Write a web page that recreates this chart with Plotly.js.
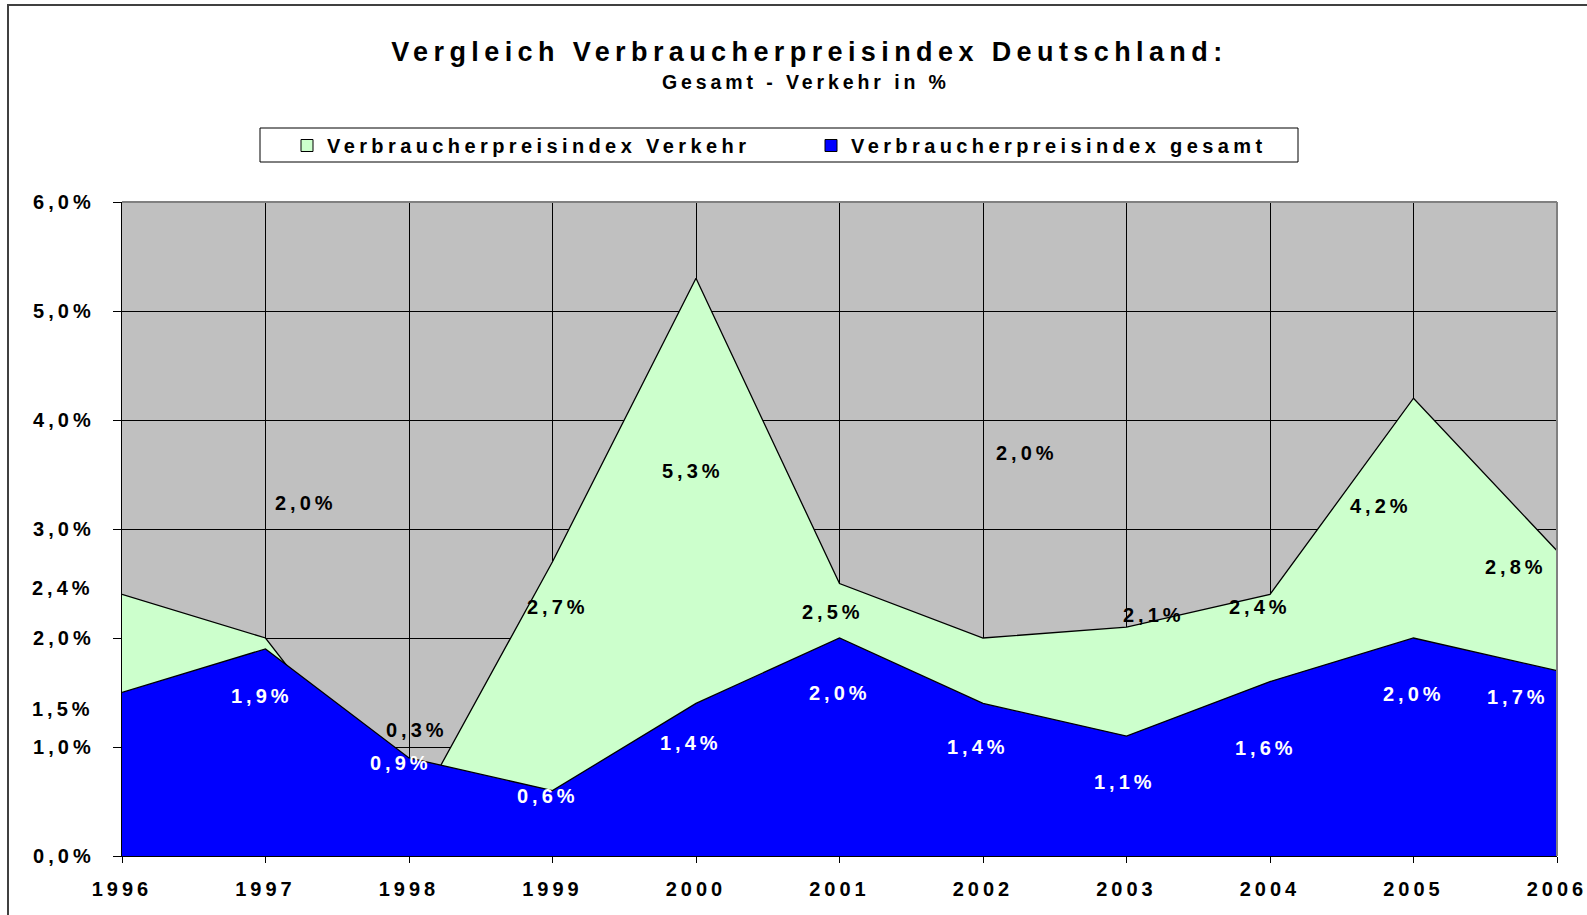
<!DOCTYPE html>
<html>
<head>
<meta charset="utf-8">
<script src="https://cdn.plot.ly/plotly-3.0.1.min.js"></script>
<style>
  html, body { margin: 0; padding: 0; background: #ffffff; }
  #wrap { position: relative; width: 1587px; height: 915px; }
  #chart { width: 1587px; height: 915px; }
  #frame { position: absolute; left: 7px; top: 4px; right: 0; bottom: 0;
           border-left: 2px solid #404040; border-top: 2px solid #404040; pointer-events: none; }
  svg text { letter-spacing: 0.2em; }
  .legendtext { letter-spacing: 0.22em; }
</style>
</head>
<body>
<div id="wrap">
  <div id="chart"></div>
  <div id="frame"></div>
</div>
<script>
// ---- data ----
const years = [1996, 1997, 1998, 1999, 2000, 2001, 2002, 2003, 2004, 2005, 2006];
const verkehr = [2.4, 2.0, 0.3, 2.7, 5.3, 2.5, 2.0, 2.1, 2.4, 4.2, 2.8];
const gesamt  = [1.5, 1.9, 0.9, 0.6, 1.4, 2.0, 1.4, 1.1, 1.6, 2.0, 1.7];
const yTickVals = [0, 1, 2, 3, 4, 5, 6];
const seriesNames = ['Verbraucherpreisindex Verkehr', 'Verbraucherpreisindex gesamt'];
const titleText = 'Vergleich Verbraucherpreisindex Deutschland:';
const subtitleText = 'Gesamt - Verkehr in %';

// ---- label placement (pixel offsets from each point: [dx, dy up]) ----
const verkehrShift = [[-59, 6], [40, 135], [8, 93], [5, -45], [-3, -193], [-7, -28],
                      [44, 185], [27, 12], [-10, -13], [-33, -108], [-41, -16]];
const gesamtShift  = [[-59, -16], [-4, -47], [-8, -5], [-5, -5], [-5, -40], [0, -55],
                      [-5, -44], [-2, -46], [-4, -66], [0, -56], [-39, -26]];

const FONT = 'Liberation Sans, Arial, sans-serif';
const GREEN = '#ccffcc', BLUE = '#0000ff', GRAY = '#c0c0c0';

function pct(v) { return v.toFixed(1).replace('.', ',') + '%'; }

const traces = [
  { x: years, y: verkehr, type: 'scatter', mode: 'lines', fill: 'tozeroy',
    fillcolor: GREEN, line: { color: '#000000', width: 1.3 }, showlegend: false, hoverinfo: 'skip' },
  { x: years, y: gesamt, type: 'scatter', mode: 'lines', fill: 'tozeroy',
    fillcolor: BLUE, line: { color: '#000000', width: 1.3 }, showlegend: false, hoverinfo: 'skip' },
  { x: [null], y: [null], type: 'scatter', mode: 'markers', name: seriesNames[0],
    marker: { symbol: 'square', size: 12, color: GREEN, line: { color: '#000000', width: 1 } } },
  { x: [null], y: [null], type: 'scatter', mode: 'markers', name: seriesNames[1],
    marker: { symbol: 'square', size: 12, color: BLUE, line: { color: '#000000', width: 1 } } }
];

const annotations = [];
years.forEach((yr, i) => {
  annotations.push({ x: yr, y: verkehr[i], xref: 'x', yref: 'y', text: pct(verkehr[i]),
    showarrow: false, xshift: verkehrShift[i][0], yshift: verkehrShift[i][1],
    font: { family: FONT, size: 20, color: '#000000', weight: 'bold' } });
  annotations.push({ x: yr, y: gesamt[i], xref: 'x', yref: 'y', text: pct(gesamt[i]),
    showarrow: false, xshift: gesamtShift[i][0], yshift: gesamtShift[i][1],
    font: { family: FONT, size: 20, color: i === 0 ? '#000000' : '#ffffff', weight: 'bold' } });
});
annotations.push({ x: 0.4767, y: 1.1835, xref: 'paper', yref: 'paper', text: subtitleText,
  showarrow: false, xanchor: 'center', yanchor: 'middle',
  font: { family: FONT, size: 19.5, color: '#000000', weight: 'bold' } });

const layout = {
  width: 1587, height: 915,
  margin: { l: 122, r: 30, t: 202, b: 59 },
  paper_bgcolor: '#ffffff',
  plot_bgcolor: GRAY,
  title: {
    text: titleText,
    font: { family: FONT, size: 27, color: '#000000', weight: 'bold' },
    x: 0.51, xref: 'container', xanchor: 'center',
    y: 0.944, yref: 'container', yanchor: 'middle'
  },
  showlegend: true,
  legend: {
    orientation: 'h', x: 287 / 1587, xanchor: 'left', xref: 'container',
    y: 1 - 145.5 / 915, yanchor: 'middle', yref: 'container',
    bgcolor: 'rgba(0,0,0,0)', borderwidth: 0,
    font: { family: FONT, size: 20, color: '#000000', weight: 'bold' },
    entrywidth: 479, itemclick: false
  },
  xaxis: {
    range: [1996, 2006], tickmode: 'array', tickvals: years, ticktext: years.map(String),
    showgrid: true, gridcolor: '#000000', gridwidth: 1,
    showline: true, linecolor: '#000000', linewidth: 1.3,
    ticks: 'outside', ticklen: 6, tickcolor: '#000000', tickwidth: 1,
    ticklabelstandoff: 9, ticklabeloverflow: 'allow',
    zeroline: false, fixedrange: true,
    tickfont: { family: FONT, size: 20, color: '#000000', weight: 'bold' }
  },
  yaxis: {
    range: [0, 6], tickmode: 'array', tickvals: yTickVals, ticktext: yTickVals.map(pct),
    showgrid: true, gridcolor: '#000000', gridwidth: 1,
    showline: true, linecolor: '#000000', linewidth: 1.3,
    ticks: 'outside', ticklen: 8, tickcolor: '#000000', tickwidth: 1,
    ticklabelstandoff: 14,
    zeroline: false, fixedrange: true,
    tickfont: { family: FONT, size: 20, color: '#000000', weight: 'bold' }
  },
  shapes: [
    { type: 'line', xref: 'paper', yref: 'paper', x0: 0, x1: 1, y0: 1, y1: 1,
      line: { color: '#808080', width: 2 }, layer: 'above' },
    { type: 'line', xref: 'paper', yref: 'paper', x0: 1, x1: 1, y0: 0, y1: 1,
      line: { color: '#808080', width: 2 }, layer: 'above' },
    { type: 'rect', xref: 'paper', yref: 'paper',
      x0: (260 - 122) / 1435, x1: (1298 - 122) / 1435,
      y0: (856 - 162) / 654, y1: (856 - 128) / 654,
      fillcolor: '#ffffff', line: { color: '#000000', width: 1 }, layer: 'below' }
  ],
  annotations: annotations
};

Plotly.newPlot('chart', traces, layout, { displayModeBar: false, staticPlot: true });
</script>
</body>
</html>
